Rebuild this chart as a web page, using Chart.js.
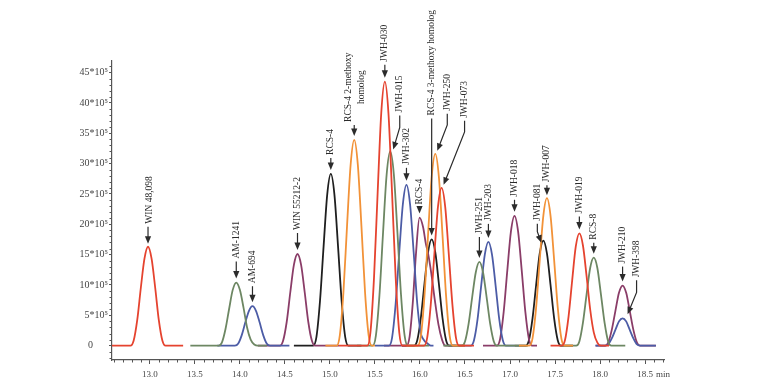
<!DOCTYPE html>
<html>
<head>
<meta charset="utf-8">
<title>Chromatogram</title>
<script src="https://cdn.jsdelivr.net/npm/chart.js@4.4.1/dist/chart.umd.min.js"></script>
<style>
  html, body { margin: 0; padding: 0; background: #fff; }
  #wrap { width: 757px; height: 384px; }
</style>
</head>
<body>
<div id="wrap"><canvas id="chromChart" width="757" height="384"></canvas></div>
<script>
// retention time (min) / signal (x10^5); null breaks a trace
const redTime = [12.58, 12.785, 12.82, 12.86, 12.90, 12.94, 12.98, 13.02, 13.06, 13.10, 13.14, 13.175, 13.37, 13.40,
  15.10, 15.415, 15.45, 15.49, 15.53, 15.57, 15.61, 15.65, 15.69, 15.73, 15.77, 15.805,
  16.045, 16.08, 16.12, 16.16, 16.20, 16.24, 16.28, 16.32, 16.36, 16.40, 16.435, 16.60, 16.63,
  17.45, 17.575, 17.61, 17.65, 17.69, 17.73, 17.77, 17.81, 17.85, 17.89, 17.93, 17.97, 18.01, 18.10];
const redSignal = [0, 0, 0.8, 4.2, 9.5, 14.3, 16.3, 14.3, 9.5, 4.2, 0.8, 0, 0, null,
  0, 0, 2.2, 11.3, 25.2, 38.3, 43.5, 38.3, 25.2, 11.3, 2.2, 0,
  0, 1.3, 6.8, 15.1, 22.9, 26.0, 22.9, 15.1, 6.8, 1.3, 0, 0, null,
  0, 0, 0.9, 4.8, 10.7, 16.3, 18.5, 16.5, 11.5, 6.0, 2.2, 0.5, 0, 0];

const orangeTime = [14.95, 15.075, 15.11, 15.15, 15.19, 15.23, 15.27, 15.31, 15.35, 15.39, 15.43, 15.465, 15.50, 15.53,
  15.85, 15.975, 16.01, 16.05, 16.09, 16.13, 16.17, 16.21, 16.25, 16.29, 16.33, 16.365, 16.50, 16.53,
  17.10, 17.215, 17.25, 17.29, 17.33, 17.37, 17.41, 17.45, 17.49, 17.53, 17.57, 17.605, 17.70];
const orangeSignal = [0, 0, 1.7, 8.8, 19.7, 29.8, 33.9, 29.8, 19.7, 8.8, 1.7, 0, 0, null,
  0, 0, 1.6, 8.2, 18.3, 27.8, 31.6, 27.8, 18.3, 8.2, 1.6, 0, 0, null,
  0, 0, 1.2, 6.3, 14.1, 21.4, 24.3, 21.4, 14.1, 6.3, 1.2, 0, 0];

const greenTime = [13.45, 13.765, 13.80, 13.84, 13.88, 13.92, 13.96, 14.00, 14.04, 14.08, 14.12, 14.16, 14.20, 14.30, 14.32,
  15.30, 15.475, 15.51, 15.55, 15.59, 15.63, 15.67, 15.71, 15.75, 15.79, 15.83, 15.865, 16.10, 16.13,
  16.26, 16.465, 16.50, 16.54, 16.58, 16.62, 16.66, 16.70, 16.74, 16.78, 16.82, 16.855, 17.20, 17.23,
  17.55, 17.735, 17.77, 17.81, 17.85, 17.89, 17.93, 17.97, 18.01, 18.05, 18.09, 18.125, 18.28];
const greenSignal = [0, 0, 0.5, 2.7, 6.0, 9.15, 10.4, 9.2, 6.3, 3.0, 1.0, 0.2, 0, 0, null,
  0, 0, 1.6, 8.3, 18.6, 28.2, 32.0, 28.2, 18.6, 8.3, 1.6, 0, 0, null,
  0, 0, 0.7, 3.6, 8.0, 12.1, 13.8, 12.1, 8.0, 3.6, 0.7, 0, 0, null,
  0, 0, 0.7, 3.8, 8.4, 12.8, 14.5, 12.8, 8.4, 3.8, 0.7, 0, 0];

const blueTime = [13.75, 13.945, 13.98, 14.02, 14.06, 14.10, 14.14, 14.18, 14.22, 14.26, 14.30, 14.335, 14.55, 14.58,
  15.50, 15.655, 15.69, 15.73, 15.77, 15.81, 15.85, 15.89, 15.93, 15.97, 16.01, 16.045, 16.08, 16.12, 16.15, 16.18,
  16.40, 16.565, 16.60, 16.64, 16.68, 16.72, 16.76, 16.80, 16.84, 16.88, 16.92, 16.955, 17.05, 17.08,
  17.95, 18.055, 18.09, 18.13, 18.17, 18.21, 18.25, 18.29, 18.33, 18.37, 18.41, 18.445, 18.62];
const blueSignal = [0, 0, 0.3, 1.7, 3.8, 5.7, 6.5, 5.7, 3.8, 1.7, 0.3, 0, 0, null,
  0, 0, 1.3, 6.9, 15.4, 23.3, 26.5, 23.3, 15.4, 6.9, 2.0, 0.9, 0.4, 0, 0, null,
  0, 0, 0.9, 4.4, 9.9, 15.0, 17.1, 15.0, 9.9, 4.4, 0.9, 0, 0, null,
  0, 0, 0.2, 1.2, 2.6, 4.0, 4.5, 4.0, 2.6, 1.2, 0.2, 0, 0];

const purpleTime = [14.20, 14.445, 14.48, 14.52, 14.56, 14.60, 14.64, 14.68, 14.72, 14.76, 14.80, 14.835, 15.10, 15.13,
  15.60, 15.85, 15.885, 15.92, 15.955, 15.995, 16.035, 16.065, 16.09, 16.125, 16.165, 16.205, 16.245, 16.28, 16.40, 16.43,
  16.70, 16.855, 16.89, 16.93, 16.97, 17.01, 17.05, 17.09, 17.13, 17.17, 17.21, 17.245, 17.30, 17.33,
  17.95, 18.055, 18.09, 18.13, 18.17, 18.21, 18.25, 18.29, 18.33, 18.37, 18.41, 18.445, 18.62];
const purpleSignal = [0, 0, 0.8, 3.9, 8.8, 13.3, 15.1, 13.3, 8.8, 3.9, 0.8, 0, 0, null,
  0, 0, 1.5, 7.0, 15.0, 21.1, 19.5, 16.8, 15.2, 12.0, 7.5, 3.5, 1.0, 0, 0, null,
  0, 0, 1.1, 5.6, 12.4, 18.8, 21.4, 18.8, 12.4, 5.6, 1.1, 0, 0, null,
  0, 0, 0.5, 2.6, 5.7, 8.7, 9.9, 8.7, 5.7, 2.6, 0.5, 0, 0];

const blackTime = [14.60, 14.815, 14.85, 14.89, 14.93, 14.97, 15.01, 15.05, 15.09, 15.13, 15.17, 15.205, 15.35, 15.38,
  15.80, 15.935, 15.97, 16.01, 16.05, 16.09, 16.13, 16.17, 16.21, 16.25, 16.29, 16.325, 16.50, 16.53,
  17.05, 17.175, 17.21, 17.25, 17.29, 17.33, 17.37, 17.41, 17.45, 17.49, 17.53, 17.565, 17.70];
const blackSignal = [0, 0, 1.4, 7.4, 16.4, 24.9, 28.3, 24.9, 16.4, 7.4, 1.4, 0, 0, null,
  0, 0, 0.9, 4.6, 10.2, 15.4, 17.5, 15.4, 10.2, 4.6, 0.9, 0, 0, null,
  0, 0, 0.9, 4.5, 10.0, 15.2, 17.3, 15.2, 10.0, 4.5, 0.9, 0, 0];

// peak labels, in elution order
const peakNames = ['WIN 48,098', 'AM-1241', 'AM-694', 'WIN 55212-2', 'RCS-4', 'RCS-4 2-methoxy\nhomolog',
  'JWH-030', 'JWH-015', 'JWH-302', 'RCS-4', 'RCS-4 3-methoxy homolog', 'JWH-250', 'JWH-073',
  'JWH-251', 'JWH-203', 'JWH-018', 'JWH-081', 'JWH-007', 'JWH-019', 'RCS-8', 'JWH-210', 'JWH-398'];
const peakTimes = [12.98, 13.96, 14.14, 14.64, 15.01, 15.27, 15.61, 15.67, 15.85, 15.995, 16.13, 16.17, 16.24,
  16.66, 16.76, 17.05, 17.37, 17.41, 17.77, 17.93, 18.25, 18.25];
const peakHeights = [16.3, 10.4, 6.5, 15.1, 28.3, 33.9, 43.5, 32.0, 26.5, 21.1, 17.5, 31.6, 26.0,
  13.8, 17.1, 21.4, 17.3, 24.3, 18.5, 14.5, 9.9, 4.5];

const xTickValues = [13.0, 13.5, 14.0, 14.5, 15.0, 15.5, 16.0, 16.5, 17.0, 17.5, 18.0, 18.5];
const yTickValues = [0, 5, 10, 15, 20, 25, 30, 35, 40, 45];

// label placement relative to the peak apex, in px
// dx: text centre, rise: text bottom above apex, bend: vertical run before a slanted arrow
const labelLayout = [
  { dx: 1, rise: 23, bend: 0, tipDx: 0, tipUp: 3 },
  { dx: 0, rise: 24, bend: 0, tipDx: 0, tipUp: 4 },
  { dx: 0, rise: 23, bend: 0, tipDx: 0, tipUp: 4 },
  { dx: 0, rise: 24, bend: 0, tipDx: 0, tipUp: 4 },
  { dx: 0, rise: 19, bend: 0, tipDx: 0, tipUp: 4 },
  { dx: 1, rise: 18, bend: 0, tipDx: 0, tipUp: 4 },
  { dx: 0, rise: 20, bend: 0, tipDx: 0, tipUp: 4 },
  { dx: 9.5, rise: 39, bend: 12, tipDx: 3, tipUp: 2 },
  { dx: 0, rise: 20, bend: 0, tipDx: 0, tipUp: 4 },
  { dx: 0, rise: 13, bend: 0, tipDx: 0, tipUp: 4 },
  { dx: 0, rise: 124, bend: 0, tipDx: 0, tipUp: 4 },
  { dx: 12, rise: 43, bend: 11, tipDx: 2, tipUp: 3 },
  { dx: 23, rise: 70, bend: 11, tipDx: 2, tipUp: 3 },
  { dx: 0, rise: 28, bend: 0, tipDx: 0, tipUp: 4 },
  { dx: 0, rise: 21, bend: 0, tipDx: 0, tipUp: 4 },
  { dx: 0, rise: 19, bend: 0, tipDx: 0, tipUp: 4 },
  { dx: -6, rise: 20, bend: 8, tipDx: -2, tipUp: -2 },
  { dx: 0, rise: 16, bend: 0, tipDx: 0, tipUp: 3 },
  { dx: 0, rise: 20, bend: 0, tipDx: 0, tipUp: 4 },
  { dx: 0, rise: 18, bend: 0, tipDx: 0, tipUp: 4 },
  { dx: 0, rise: 22, bend: 0, tipDx: 0, tipUp: 4 },
  { dx: 14, rise: 41, bend: 12, tipDx: 5, tipUp: 4 }
];

const traces = [
  { time: redTime, signal: redSignal, color: '#e5432f' },
  { time: orangeTime, signal: orangeSignal, color: '#f29238' },
  { time: greenTime, signal: greenSignal, color: '#6d8763' },
  { time: blueTime, signal: blueSignal, color: '#4c5ca6' },
  { time: purpleTime, signal: purpleSignal, color: '#8a3d68' },
  { time: blackTime, signal: blackSignal, color: '#1f1f1f' }
];

const LABEL_FONT = '9.5px "Liberation Serif"';

function drawArrowHead(ctx, fromX, fromY, toX, toY) {
  const ang = Math.atan2(toY - fromY, toX - fromX);
  const len = 7.5, half = 3.1;
  ctx.beginPath();
  ctx.moveTo(toX, toY);
  ctx.lineTo(toX - len * Math.cos(ang) + half * Math.sin(ang), toY - len * Math.sin(ang) - half * Math.cos(ang));
  ctx.lineTo(toX - len * Math.cos(ang) - half * Math.sin(ang), toY - len * Math.sin(ang) + half * Math.cos(ang));
  ctx.closePath();
  ctx.fill();
}

const peakLabels = {
  id: 'peakLabels',
  afterDatasetsDraw(chart) {
    const { ctx, scales: { x, y } } = chart;
    ctx.save();
    ctx.font = LABEL_FONT;
    ctx.fillStyle = '#2b2b2b';
    ctx.strokeStyle = '#2b2b2b';
    ctx.lineWidth = 1.2;

    peakNames.forEach((name, i) => {
      const l = labelLayout[i];
      const ax = x.getPixelForValue(peakTimes[i]);
      const ay = y.getPixelForValue(peakHeights[i]);
      const tx = ax + l.dx;
      const tb = ay - l.rise;
      const lines = name.split('\n');

      // rotated text, reading bottom to top
      ctx.save();
      ctx.translate(tx, tb);
      ctx.rotate(-Math.PI / 2);
      ctx.textBaseline = 'middle';
      if (lines.length === 1) {
        ctx.textAlign = 'left';
        ctx.fillText(name, 0, 0);
      } else {
        const w0 = ctx.measureText(lines[0]).width;
        ctx.textAlign = 'center';
        lines.forEach((line, j) => {
          ctx.fillText(line, w0 / 2, (j - (lines.length - 1) / 2) * 12.5);
        });
      }
      ctx.restore();

      // arrow
      const pts = [];
      const tip = [ax + l.tipDx, ay - l.tipUp];
      if (l.bend > 0) {
        pts.push([tx, tb + 3], [tx, tb + 3 + l.bend], tip);
      } else {
        pts.push([ax, tb + 3], tip);
      }
      const prev = pts[pts.length - 2];
      const ang = Math.atan2(tip[1] - prev[1], tip[0] - prev[0]);
      const end = [tip[0] - 5 * Math.cos(ang), tip[1] - 5 * Math.sin(ang)];
      ctx.beginPath();
      ctx.moveTo(pts[0][0], pts[0][1]);
      for (let k = 1; k < pts.length - 1; k++) ctx.lineTo(pts[k][0], pts[k][1]);
      ctx.lineTo(end[0], end[1]);
      ctx.stroke();
      drawArrowHead(ctx, prev[0], prev[1], tip[0], tip[1]);
    });
    ctx.restore();
  }
};

const minorTicks = {
  id: 'minorTicks',
  afterDraw(chart) {
    const { ctx, chartArea, scales: { x, y } } = chart;
    ctx.save();
    ctx.strokeStyle = '#555';
    ctx.lineWidth = 1;
    ctx.beginPath();
    for (let v = 126; v <= 187; v++) {
      if (v % 5 === 0) continue;
      const px = Math.round(x.getPixelForValue(v / 10)) + 0.5;
      ctx.moveTo(px, chartArea.bottom);
      ctx.lineTo(px, chartArea.bottom + 2.5);
    }
    for (let v = -2; v <= 46; v++) {
      if (v % 5 === 0) continue;
      const py = Math.round(y.getPixelForValue(v)) + 0.5;
      ctx.moveTo(chartArea.left, py);
      ctx.lineTo(chartArea.left - 2.5, py);
    }
    ctx.stroke();

    // unit after the last time label
    ctx.font = '9px "Liberation Serif"';
    ctx.fillStyle = '#444';
    ctx.textAlign = 'left';
    ctx.textBaseline = 'middle';
    ctx.fillText('min', x.getPixelForValue(18.5) + 11, chartArea.bottom + 14.5);
    ctx.restore();
  }
};

Chart.defaults.font.family = '"Liberation Serif"';

const ctx = document.getElementById('chromChart').getContext('2d');
new Chart(ctx, {
  type: 'line',
  data: {
    datasets: traces.map(tr => ({
      data: tr.time.map((t, i) => ({ x: t, y: tr.signal[i] })),
      borderColor: tr.color,
      borderWidth: 1.8,
      pointRadius: 0,
      fill: false,
      cubicInterpolationMode: 'monotone',
      spanGaps: false
    }))
  },
  options: {
    responsive: false,
    animation: false,
    layout: { padding: { top: 61, right: 93, left: 0, bottom: 0 } },
    plugins: { legend: { display: false }, tooltip: { enabled: false } },
    scales: {
      x: {
        type: 'linear',
        min: 12.58,
        max: 18.71,
        afterBuildTicks: axis => { axis.ticks = xTickValues.map(v => ({ value: v })); },
        afterFit: axis => { axis.height = 24; },
        grid: { drawOnChartArea: false, tickLength: 4, color: '#555' },
        border: { color: '#555', width: 1.2 },
        ticks: {
          autoSkip: false,
          maxRotation: 0,
          padding: 5,
          color: '#444',
          font: { size: 9 },
          callback: v => v.toFixed(1)
        }
      },
      y: {
        min: -2.36,
        max: 46.9,
        afterBuildTicks: axis => { axis.ticks = yTickValues.map(v => ({ value: v })); },
        afterFit: axis => { axis.width = 112; },
        grid: { drawOnChartArea: false, tickLength: 3, color: '#555' },
        border: { color: '#555', width: 1.2 },
        ticks: {
          padding: 1,
          color: '#444',
          font: { size: 10 },
          callback: v => (v === 0 ? '0      ' : v + '*10\u2075')
        }
      }
    }
  },
  plugins: [peakLabels, minorTicks]
});
</script>
</body>
</html>
